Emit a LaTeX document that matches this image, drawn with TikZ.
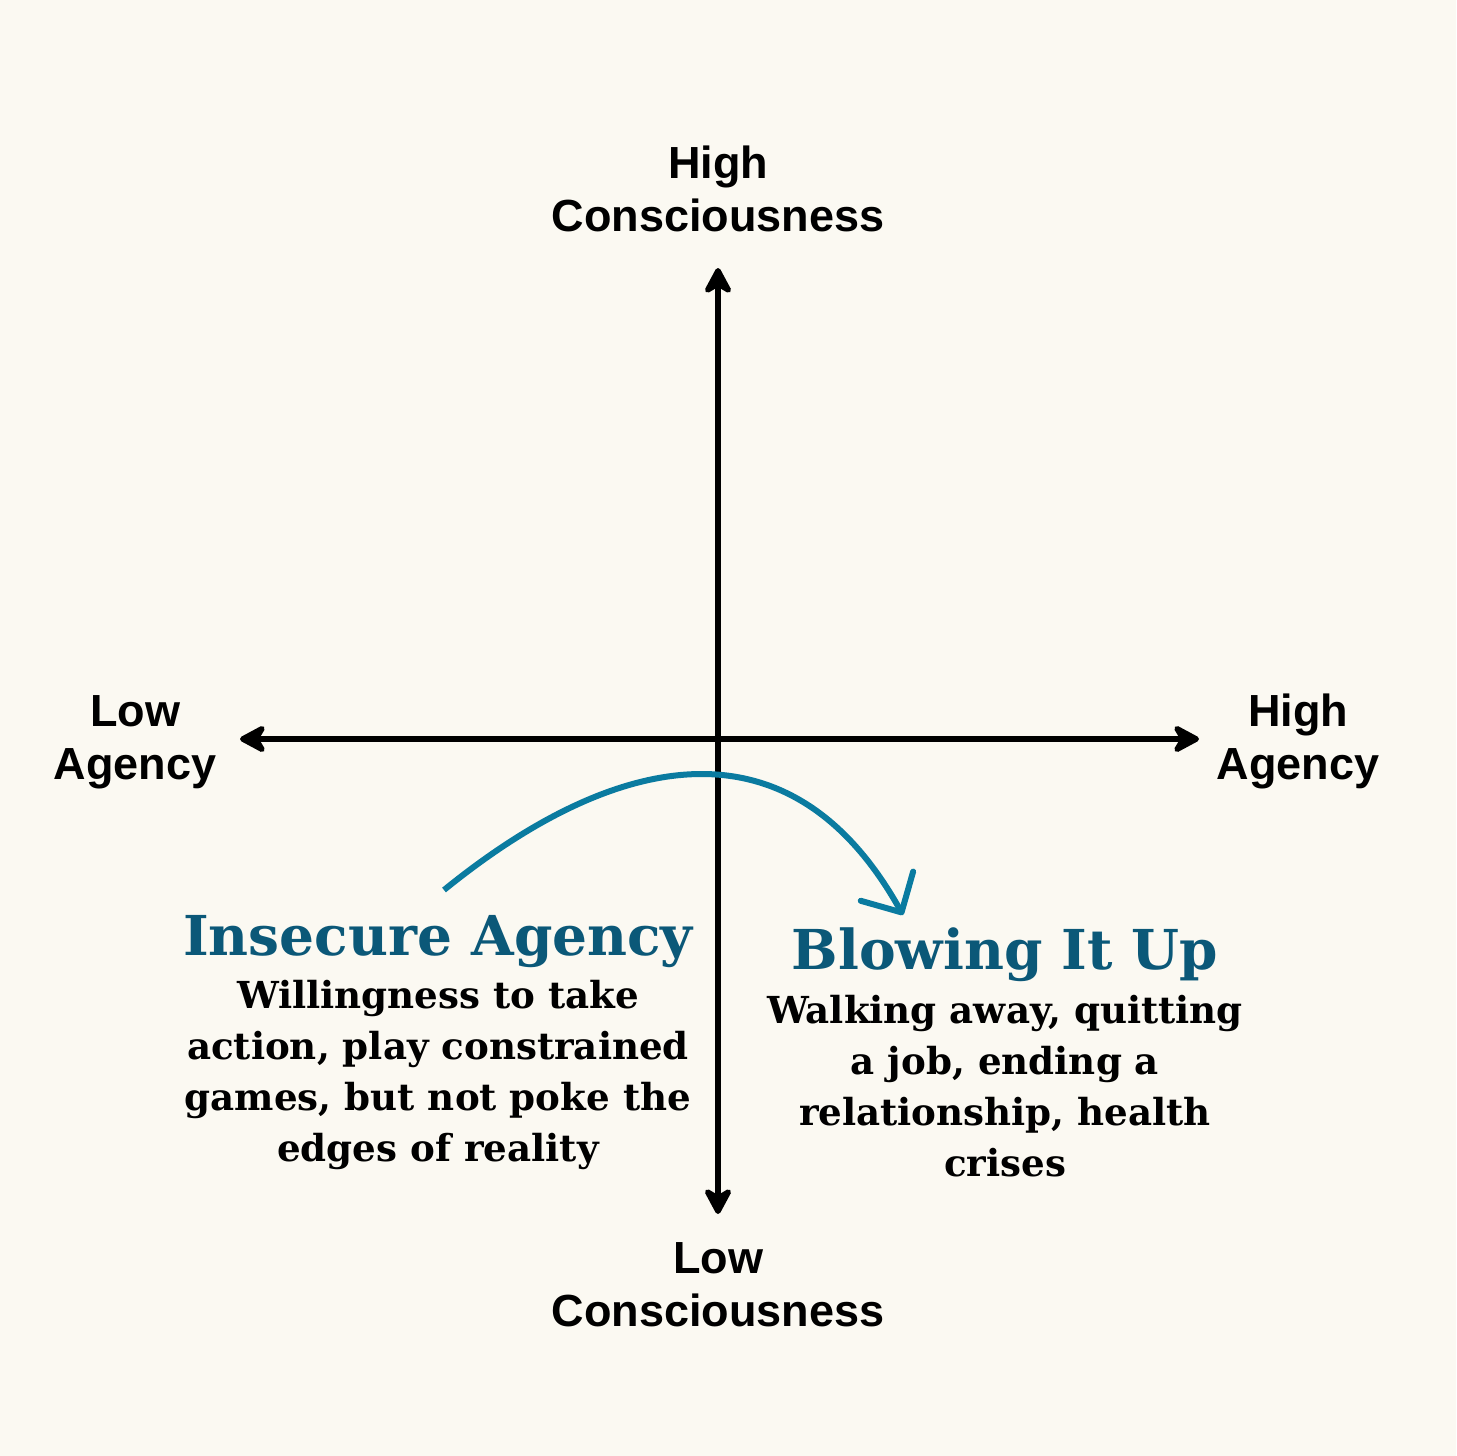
\documentclass[tikz,border=0pt]{standalone}
\usepackage{fontspec}
\usetikzlibrary{arrows.meta}
\newfontfamily\axisfont{Liberation Sans}
\newfontfamily\quadfont{DejaVu Serif}
\definecolor{paper}{HTML}{FBF9F2}
\definecolor{tealhead}{HTML}{0B5878}
\definecolor{tealarc}{HTML}{0A7BA0}
\tikzset{
  axislabel/.style={align=center, inner sep=0pt, font=\axisfont\bfseries\fontsize{22.5}{26.5}\selectfont},
  quadtitle/.style={inner sep=0pt, text=tealhead, font=\quadfont\bfseries\fontsize{27.5}{32}\selectfont},
  quadtext/.style={align=center, inner sep=0pt, font=\quadfont\bfseries\fontsize{18.6}{25.5}\selectfont},
  axisline/.style={line width=2.7pt, -{Stealth[round, length=16pt, width=17pt, inset=5pt]}},
}
\begin{document}
\begin{tikzpicture}[x=0.5pt, y=-0.5pt]
				\fill[paper] (0,0) rectangle (1456,1456);
				\useasboundingbox (0,0) rectangle (1456,1456);
				% axes
				\coordinate (O) at (718, 739);
				\coordinate (top) at (718, 268);
				\coordinate (bottom) at (718, 1214);
				\coordinate (left) at (240, 739);
				\coordinate (right) at (1199, 739);
				\draw[axisline] (O) -- (top);
				\draw[axisline] (O) -- (bottom);
				\draw[axisline] (O) -- (left);
				\draw[axisline] (O) -- (right);
				\node[axislabel] (HC) at (718, 189) {High\\Consciousness};
				\node[axislabel] (LC) at (718, 1285) {Low\\Consciousness};
				\node[axislabel] (LA) at (135, 742) {Low\\Agency};
				\node[axislabel] (HA) at (1298, 741) {High\\Agency};
				% quadrants
				\node[quadtitle] (IAtitle) at (438, 942) {Insecure Agency};
				\node[quadtext] (IAtext) at (438, 1075) {Willingness to take\\action, play constrained\\games, but not poke the\\edges of reality};
				\node[quadtitle] (BUtitle) at (1005, 955) {Blowing It Up};
				\node[quadtext] (BUtext) at (1005, 1086) {Walking away, quitting\\a job, ending a\\relationship, health\\crises};
				% jump
				\coordinate (arcstart) at (444, 890);
				\coordinate (arcend) at (903, 915);
				\draw[tealarc, line width=3pt, -{Straight Barb[length=15pt, width=30pt, round]}] (arcstart) .. controls (604, 760) and (786, 705) .. (arcend);
			\end{tikzpicture}
\end{document}
